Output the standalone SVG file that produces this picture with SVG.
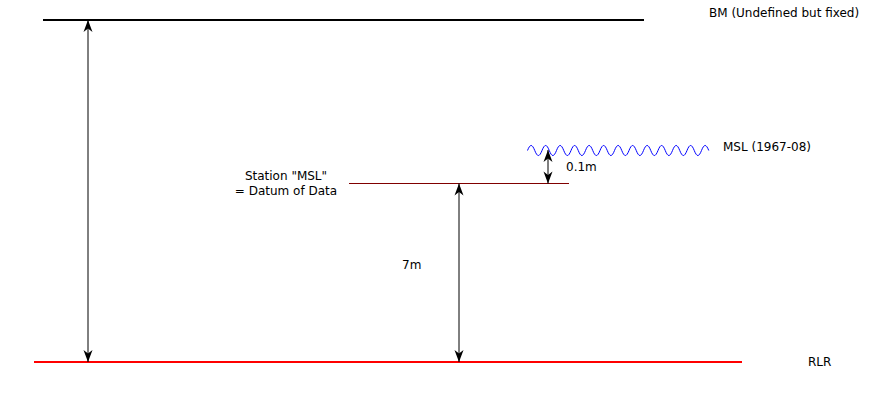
<svg xmlns="http://www.w3.org/2000/svg" width="875" height="400" viewBox="0 0 875 400">
<style>
text{font-family:"DejaVu Sans",sans-serif;font-size:12px;fill:#000}
.dim{stroke:#000;stroke-width:1;fill:none;marker-start:url(#ah);marker-end:url(#ah)}
</style>
<defs>
<marker id="ah" markerUnits="userSpaceOnUse" markerWidth="16" markerHeight="12" viewBox="-13 -6 14 12" refX="0" refY="0" orient="auto-start-reverse">
<path d="M0,0 L-12,-4.5 L-8.5,0 L-12,4.5 Z" fill="#000"/>
</marker>
</defs>
<rect width="875" height="400" fill="#fff"/>
<g id="bm">
<line x1="43" y1="20" x2="644" y2="20" stroke="#000" stroke-width="2"/>
<text x="709" y="17">BM (Undefined but fixed)</text>
</g>
<g id="rlr">
<line x1="34" y1="362" x2="742" y2="362" stroke="#f00" stroke-width="2"/>
<text x="808" y="366">RLR</text>
</g>
<g id="station">
<line x1="349" y1="183.5" x2="569" y2="183.5" stroke="#800000" stroke-width="1"/>
<text x="286" y="180" text-anchor="middle">Station "MSL"</text>
<text x="286" y="195" text-anchor="middle">= Datum of Data</text>
</g>
<g id="msl">
<path d="M527.5,150.5 c2.64,-6.7 4.61,-6.7 7.25,0 s4.61,6.7 7.25,0 s4.61,-6.7 7.25,0 s4.61,6.7 7.25,0 s4.61,-6.7 7.25,0 s4.61,6.7 7.25,0 s4.61,-6.7 7.25,0 s4.61,6.7 7.25,0 s4.61,-6.7 7.25,0 s4.61,6.7 7.25,0 s4.61,-6.7 7.25,0 s4.61,6.7 7.25,0 s4.61,-6.7 7.25,0 s4.61,6.7 7.25,0 s4.61,-6.7 7.25,0 s4.61,6.7 7.25,0 s4.61,-6.7 7.25,0 s4.61,6.7 7.25,0 s4.61,-6.7 7.25,0 s4.61,6.7 7.25,0 s4.61,-6.7 7.25,0 s4.61,6.7 7.25,0 s4.61,-6.7 7.25,0 s4.61,6.7 7.25,0 s4.61,-6.7 7.25,0" fill="none" stroke="#00f" stroke-width="1"/>
<text x="723" y="151">MSL (1967-08)</text>
</g>
<g id="connectors">
<line class="dim" x1="88" y1="20" x2="88" y2="362"/>
<line class="dim" x1="459" y1="183.5" x2="459" y2="362"/>
<line class="dim" x1="548" y1="150" x2="548" y2="183.5"/>
<text x="402" y="269">7m</text>
<text x="566" y="171">0.1m</text>
</g>
</svg>
